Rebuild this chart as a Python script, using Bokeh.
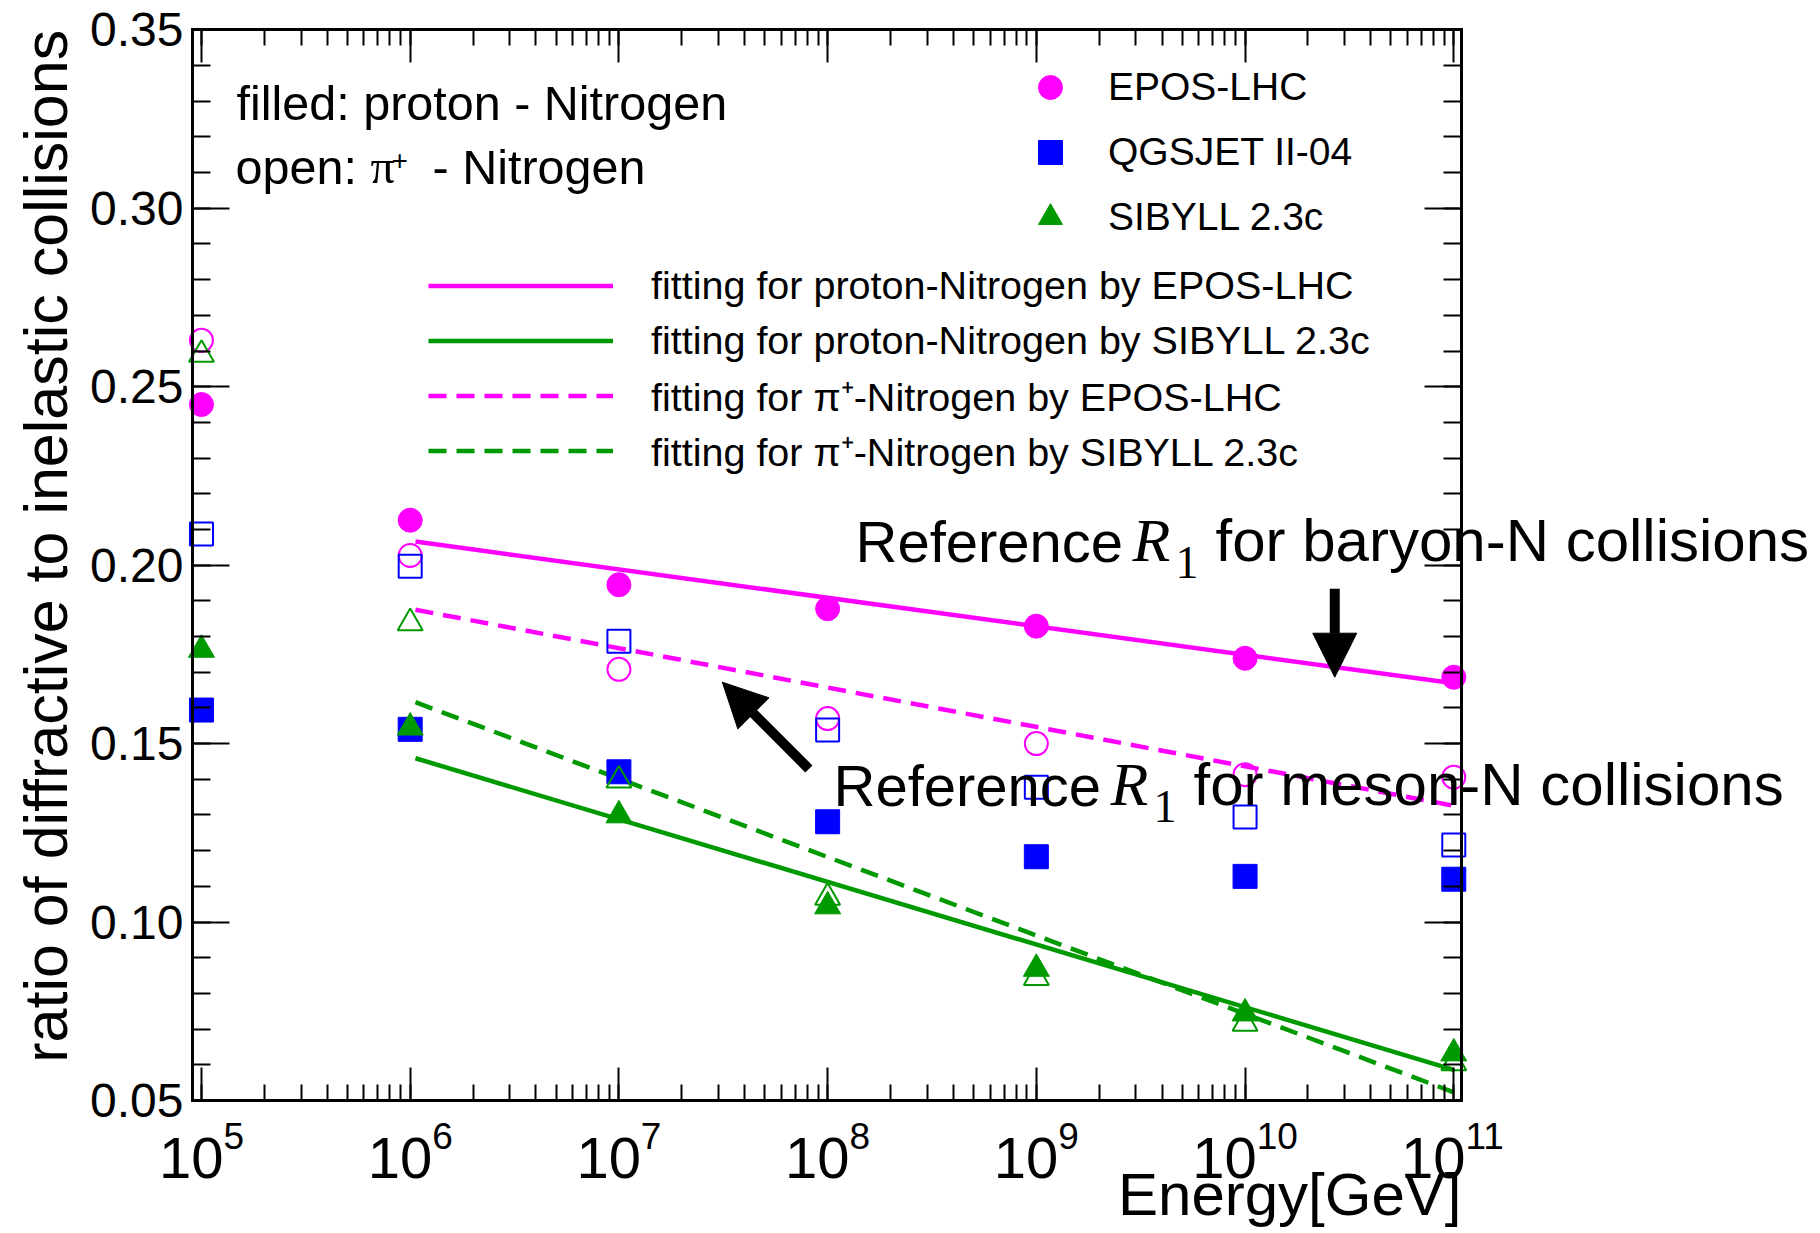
import math

from bokeh.embed import file_html
from bokeh.models import (Arrow, CustomJSTickFormatter, Label, Legend, LegendItem,
                          LinearAxis, LogAxis, LogTicker, NormalHead, PrintfTickFormatter,
                          Range1d, SingleIntervalTicker)
from bokeh.plotting import figure
from bokeh.resources import INLINE

# ---------------------------------------------------------------- data
energy = [1e5, 1e6, 1e7, 1e8, 1e9, 1e10, 1e11]  # GeV

# ratio of diffractive to inelastic collisions, proton-N (filled) and pi+-N (open)
epos_proton = [0.2450, 0.2126, 0.1945, 0.1878, 0.1829, 0.1739, 0.1686]
epos_pion = [0.2630, 0.2027, 0.1708, 0.1570, 0.1500, 0.1413, 0.1406]
qgsjet_proton = [0.1594, 0.1540, 0.1421, 0.1281, 0.1183, 0.1128, 0.1120]
qgsjet_pion = [0.2087, 0.1997, 0.1787, 0.1538, 0.1378, 0.1294, 0.1216]
sibyll_proton = [0.1763, 0.1545, 0.1299, 0.1044, 0.0869, 0.0744, 0.0632]
sibyll_pion = [0.2590, 0.1838, 0.1397, 0.1069, 0.0844, 0.0716, 0.0605]

# straight-line fits in log10(E), given by their end points
fit_energy = [1.06e6, 1e11]
fit_epos_proton = [0.2066, 0.1669]
fit_sibyll_proton = [0.1459, 0.0586]
fit_epos_pion = [0.1875, 0.1326]
fit_sibyll_pion = [0.1616, 0.0523]

x_tick_exponents = [5, 6, 7, 8, 9, 10, 11]

# annotation arrows (energy, ratio)
baryon_arrow = dict(x_start=2.69e10, y_start=0.1934, x_end=2.69e10, y_end=0.1686)
meson_arrow = dict(x_start=8.13e7, y_start=0.1429, x_end=3.13e7, y_end=0.1672)

# ---------------------------------------------------------------- geometry
W, H = 1820, 1233
# axes box in canvas pixels and in data units
BOX_L, BOX_R, BOX_T, BOX_B = 192, 1461, 29.3, 1100
X_MIN, X_MAX = 10 ** 4.957, 10 ** 11.037
Y_MIN, Y_MAX = 0.05, 0.35

# the frame covers the whole canvas so that texts outside the box are not clipped;
# the axes are pinned to the box edges
x_scale = (BOX_R - BOX_L) / (math.log10(X_MAX) - math.log10(X_MIN))
y_scale = (BOX_B - BOX_T) / (Y_MAX - Y_MIN)
X_LO = 10 ** (math.log10(X_MIN) - BOX_L / x_scale)
X_HI = 10 ** (math.log10(X_MAX) + (W - BOX_R) / x_scale)
Y_LO = Y_MIN - (H - BOX_B) / y_scale
Y_HI = Y_MAX + BOX_T / y_scale

FONT = "Liberation Sans"
SERIF = "Liberation Serif"
MAGENTA = "#ff00ff"
BLUE = "#0000ff"
GREEN = "#009900"
DASH = "18 10"
LW = 4.5

p = figure(width=W, height=H, x_axis_type="log",
           x_range=Range1d(X_LO, X_HI), y_range=Range1d(Y_LO, Y_HI),
           output_backend="svg", toolbar_location=None,
           min_border=0, min_border_left=0, min_border_right=0,
           min_border_top=0, min_border_bottom=0)
p.grid.visible = False
p.outline_line_color = None
p.background_fill_color = "white"
p.border_fill_color = "white"

blank = CustomJSTickFormatter(code="return ''")


def style_axis(ax, major, minor):
    ax.axis_line_width = 3
    ax.axis_line_color = "black"
    ax.axis_line_cap = "square"
    ax.major_tick_in = major
    ax.major_tick_out = 0
    ax.minor_tick_in = minor
    ax.minor_tick_out = 0
    ax.major_tick_line_width = 2
    ax.minor_tick_line_width = 2
    ax.major_tick_line_color = "black"
    ax.minor_tick_line_color = "black"


X_BOUNDS = (X_MIN, X_MAX)
Y_BOUNDS = (Y_MIN, Y_MAX + 1e-7)

xb = p.xaxis[0]
xb.ticker = LogTicker(num_minor_ticks=10, mantissas=[1])
xb.formatter = blank
xb.bounds = X_BOUNDS
xb.fixed_location = Y_MIN
style_axis(xb, 33, 16)

yl = p.yaxis[0]
yl.ticker = SingleIntervalTicker(interval=0.05, num_minor_ticks=5)
yl.formatter = PrintfTickFormatter(format="%.2f")
yl.bounds = Y_BOUNDS
yl.fixed_location = X_MIN
yl.major_label_text_font = FONT
yl.major_label_text_font_size = "48px"
yl.major_label_text_color = "black"
yl.major_label_standoff = 9
style_axis(yl, 37, 18)

xt = LogAxis(ticker=LogTicker(num_minor_ticks=10, mantissas=[1]), formatter=blank,
             bounds=X_BOUNDS, fixed_location=Y_MAX)
style_axis(xt, 33, 16)
p.add_layout(xt, "above")

yr = LinearAxis(ticker=SingleIntervalTicker(interval=0.05, num_minor_ticks=5),
                formatter=blank, bounds=Y_BOUNDS, fixed_location=X_MAX)
style_axis(yr, 37, 18)
p.add_layout(yr, "right")

# ---------------------------------------------------------------- fits
f1 = p.line(fit_energy, fit_epos_proton, line_color=MAGENTA, line_width=LW)
f2 = p.line(fit_energy, fit_sibyll_proton, line_color=GREEN, line_width=LW)
f3 = p.line(fit_energy, fit_epos_pion, line_color=MAGENTA, line_width=LW, line_dash=DASH)
f4 = p.line(fit_energy, fit_sibyll_pion, line_color=GREEN, line_width=LW, line_dash=DASH)

# ---------------------------------------------------------------- points
r_epos = p.scatter(energy, epos_proton, marker="circle", size=24,
                   fill_color=MAGENTA, line_color=MAGENTA)
p.scatter(energy, epos_pion, marker="circle", size=23, fill_color=None,
          line_color=MAGENTA, line_width=2)
r_qgs = p.scatter(energy, qgsjet_proton, marker="square", size=24,
                  fill_color=BLUE, line_color=BLUE)
p.scatter(energy, qgsjet_pion, marker="square", size=23, fill_color=None,
          line_color=BLUE, line_width=2)
r_sib = p.scatter(energy, sibyll_proton, marker="triangle", size=26,
                  fill_color=GREEN, line_color=GREEN)
p.scatter(energy, sibyll_pion, marker="triangle", size=25, fill_color=None,
          line_color=GREEN, line_width=2)

# ---------------------------------------------------------------- legends
# legend locations are the lower-left corners, in px from the canvas' lower-left
models_legend = Legend(
    items=[LegendItem(label="EPOS-LHC", renderers=[r_epos]),
           LegendItem(label="QGSJET II-04", renderers=[r_qgs]),
           LegendItem(label="SIBYLL 2.3c", renderers=[r_sib])],
    location=(1020, 986), orientation="vertical",
    glyph_width=60, glyph_height=60, label_height=60, spacing=5, padding=0,
    margin=0, label_standoff=28, label_text_font=FONT, label_text_font_size="39px",
    label_text_color="black", border_line_color=None, background_fill_alpha=0)
p.add_layout(models_legend)

fits_legend = Legend(
    items=[LegendItem(label="fitting for proton-Nitrogen by EPOS-LHC", renderers=[f1]),
           LegendItem(label="fitting for proton-Nitrogen by SIBYLL 2.3c", renderers=[f2]),
           LegendItem(label="fitting for \u03c0\u207a-Nitrogen by EPOS-LHC", renderers=[f3]),
           LegendItem(label="fitting for \u03c0\u207a-Nitrogen by SIBYLL 2.3c", renderers=[f4])],
    location=(428, 755), orientation="vertical",
    glyph_width=185, glyph_height=55, label_height=55, spacing=0, padding=0,
    margin=0, label_standoff=38, label_text_font=FONT, label_text_font_size="39.5px",
    label_text_color="black", border_line_color=None, background_fill_alpha=0)
p.add_layout(fits_legend)

# ---------------------------------------------------------------- texts
BASELINE_FIX = 0.35  # em; lifts the drawn baseline onto the requested one


def text_at(text, dx, dy, size, font=FONT, style="normal", align="left", angle=0.0,
            x=X_MIN, y=Y_MAX):
    """Text whose baseline starts dx px right and dy px below an anchor (default: box top-left)."""
    fix = BASELINE_FIX * size
    if angle:
        dx -= fix
    else:
        dy -= fix
    p.add_layout(Label(x=x, y=y, x_offset=dx, y_offset=-dy, text=text,
                       text_font=font, text_font_size=f"{size}px", text_font_style=style,
                       text_align=align, text_baseline="alphabetic", angle=angle,
                       text_color="black"))


# axis titles
text_at("ratio of diffractive to inelastic collisions", 67 - BOX_L, 0, 61,
        align="right", angle=math.pi / 2)
text_at("Energy[GeV]", 0, 1215 - BOX_B, 60, align="right", x=X_MAX, y=Y_MIN)

# bottom tick labels 10^n
BASE_SIZE, EXP_SIZE = 58, 37
for k in x_tick_exponents:
    base_w = 2 * 0.556 * BASE_SIZE
    exp_w = len(str(k)) * 0.556 * EXP_SIZE
    left = -(base_w + exp_w) / 2
    text_at("10", left, 78, BASE_SIZE, x=10 ** k, y=Y_MIN)
    text_at(str(k), left + base_w, 48, EXP_SIZE, x=10 ** k, y=Y_MIN)

# projectile key
text_at("filled: proton - Nitrogen", 44, 90, 48.5)
text_at("open:", 43, 154, 48.5)
text_at("\u03c0", 178, 154, 48.5, font=SERIF)
text_at("+", 199, 140, 28)
text_at("- Nitrogen", 240, 154, 48.5)

# reference R1 annotations
for dx, dy, kind in [(663, 532, "baryon"), (641, 776, "meson")]:
    text_at("Reference", dx, dy, 58)
    text_at("R", dx + 277, dy, 62, font=SERIF, style="italic")
    text_at("1", dx + 320, dy + 17, 46, font=SERIF)
    text_at(f"for {kind}-N collisions", dx + 360, dy, 60)

for a in (baryon_arrow, meson_arrow):
    p.add_layout(Arrow(**a, line_width=10, line_color="black",
                       end=NormalHead(size=44, fill_color="black", line_color="black",
                                      line_width=1)))

open("out.html", "w").write(file_html(p, INLINE))
